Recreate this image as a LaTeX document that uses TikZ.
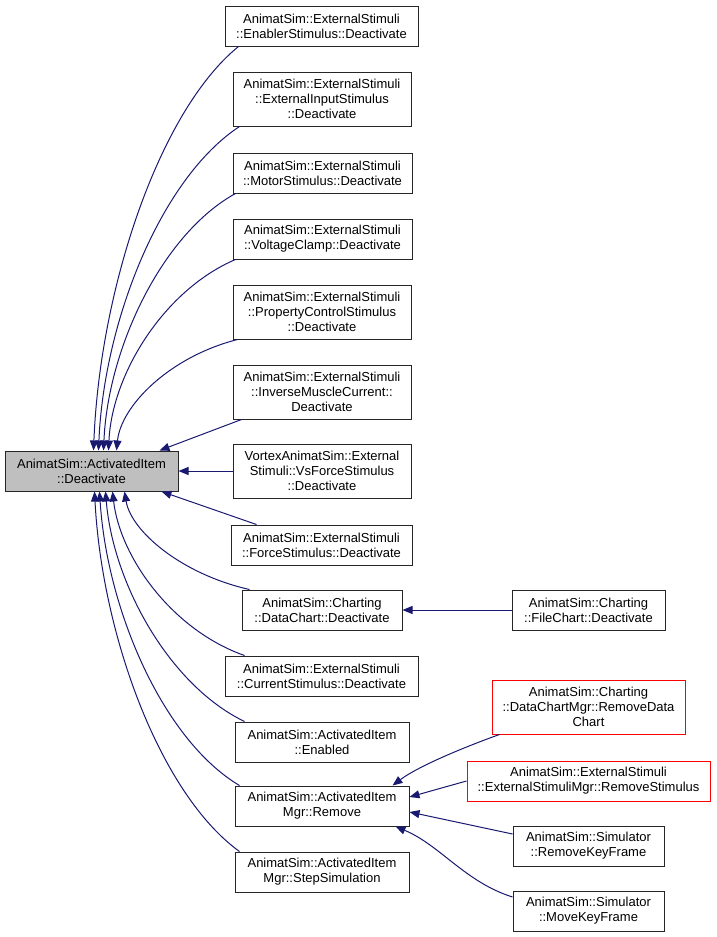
\documentclass[tikz,border=0pt]{standalone}
\usepackage{fontspec}
\setmainfont{Liberation Sans}
\usetikzlibrary{arrows.meta}
\definecolor{edgeblue}{HTML}{191970}
\definecolor{mainfill}{HTML}{BFBFBF}
\begin{document}
\begin{tikzpicture}[x=1pt,y=-1pt,
  box/.style={draw=black!85, line width=1pt, fill=white, inner sep=0pt, align=center,
    font=\fontsize{13}{15}\selectfont},
  wh/.style 2 args={minimum width=#1pt, minimum height=#2pt},
  redbox/.style={box, draw=red},
  mainbox/.style={box, fill=mainfill},
  edge/.style={draw=edgeblue, line width=1pt, -{Triangle[length=10pt,width=8pt]}},
]
\useasboundingbox (0,0) rectangle (716,937);
% main
\node[mainbox, wh={173}{40}] (main) at (91.5,471) {AnimatSim::ActivatedItem\\::Deactivate};
% middle column
\node[box, wh={193}{40}] (en) at (321.5,26) {AnimatSim::ExternalStimuli\\::EnablerStimulus::Deactivate};
\node[box, wh={178}{54}] (ei) at (322,99) {AnimatSim::ExternalStimuli\\::ExternalInputStimulus\\::Deactivate};
\node[box, wh={179}{40}] (mo) at (322.5,173) {AnimatSim::ExternalStimuli\\::MotorStimulus::Deactivate};
\node[box, wh={179}{40}] (vc) at (322.5,239) {AnimatSim::ExternalStimuli\\::VoltageClamp::Deactivate};
\node[box, wh={178}{54}] (pc) at (322,312) {AnimatSim::ExternalStimuli\\::PropertyControlStimulus\\::Deactivate};
\node[box, wh={178}{54}] (im) at (322,392) {AnimatSim::ExternalStimuli\\::InverseMuscleCurrent::\\Deactivate};
\node[box, wh={178}{54}] (vf) at (322,471) {VortexAnimatSim::External\\Stimuli::VsForceStimulus\\::Deactivate};
\node[box, wh={181}{40}] (fs) at (321.5,545) {AnimatSim::ExternalStimuli\\::ForceStimulus::Deactivate};
\node[box, wh={160}{40}] (dc) at (322,610) {AnimatSim::Charting\\::DataChart::Deactivate};
\node[box, wh={193}{40}] (cs) at (321.5,676) {AnimatSim::ExternalStimuli\\::CurrentStimulus::Deactivate};
\node[box, wh={174}{40}] (ae) at (322,742) {AnimatSim::ActivatedItem\\::Enabled};
\node[box, wh={174}{40}] (rm) at (322,806) {AnimatSim::ActivatedItem\\Mgr::Remove};
\node[box, wh={174}{40}] (ss) at (322,872) {AnimatSim::ActivatedItem\\Mgr::StepSimulation};
% right column
\node[box, wh={153}{40}] (fc) at (588.5,610) {AnimatSim::Charting\\::FileChart::Deactivate};
\node[redbox, wh={193}{54}] (rd) at (588.5,707) {AnimatSim::Charting\\::DataChartMgr::RemoveData\\Chart};
\node[redbox, wh={243}{40}] (rs) at (588.5,781) {AnimatSim::ExternalStimuli\\::ExternalStimuliMgr::RemoveStimulus};
\node[box, wh={151}{40}] (rk) at (588.5,846) {AnimatSim::Simulator\\::RemoveKeyFrame};
\node[box, wh={151}{40}] (mk) at (588.5,911) {AnimatSim::Simulator\\::MoveKeyFrame};
% edges into main, from above
\draw[edge] ([xshift=14pt]en.south west) .. controls (159,111) and (100,289) .. ([xshift=89pt]main.north west);
\draw[edge] ([xshift=7pt]ei.south west) .. controls (161,178) and (104,321) .. ([xshift=94pt]main.north west);
\draw[edge] ([xshift=3pt]mo.south west) .. controls (162,234) and (108,348) .. ([xshift=99pt]main.north west);
\draw[edge] ([xshift=3pt]vc.south west) .. controls (164,290) and (112,374) .. ([xshift=104pt]main.north west);
\draw[edge] ([xshift=5pt]pc.south west) .. controls (169,357) and (121,406) .. ([xshift=112pt]main.north west);
\draw[edge] ([xshift=9pt]im.south west) -- ([xshift=155pt]main.north west);
\draw[edge] (vf.west) -- (main.east);
% edges into main, from below
\draw[edge] ([xshift=26pt]fs.north west) -- ([xshift=157pt]main.south west);
\draw[edge] ([xshift=8pt]dc.north west) .. controls (181,574) and (131,531) .. ([xshift=120pt]main.south west);
\draw[edge] ([xshift=20pt]cs.north west) .. controls (172,630) and (120,557) .. ([xshift=108pt]main.south west);
\draw[edge] ([xshift=10pt]ae.north west) .. controls (169,685) and (113,583) .. ([xshift=101pt]main.south west);
\draw[edge] ([xshift=5pt]rm.north west) .. controls (163,740) and (107,610) .. ([xshift=95pt]main.south west);
\draw[edge] ([xshift=5pt]ss.north west) .. controls (160,794) and (102,635) .. ([xshift=90pt]main.south west);
% right side edges
\draw[edge] (fc.west) -- (dc.east);
\draw[edge] ([xshift=8pt]rd.south west) .. controls (470,745) and (420,765) .. ([xshift=-17pt]rm.north east);
\draw[edge] (rs.west) -- ([yshift=9pt]rm.east);
\draw[edge] ([yshift=12pt]rk.west) -- ([yshift=-6pt]rm.east);
\draw[edge] ([yshift=14pt]mk.west) .. controls (465,882) and (440,845) .. ([xshift=-14pt]rm.south east);
\end{tikzpicture}
\end{document}
